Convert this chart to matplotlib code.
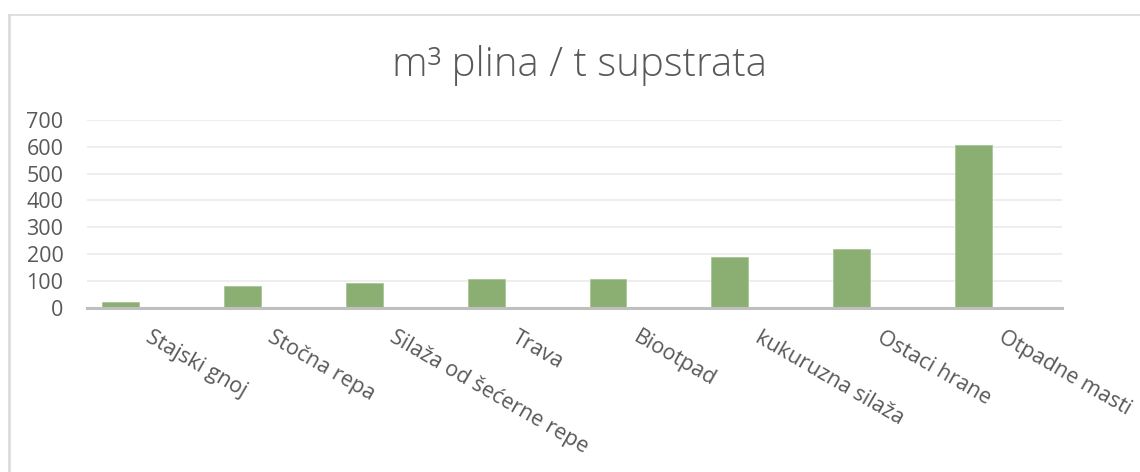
import matplotlib.pyplot as plt
from matplotlib.lines import Line2D
import numpy as np

categories = ["Stajski gnoj", "Stočna repa", "Silaža od šećerne repe", "Trava",
              "Biootpad", "kukuruzna silaža", "Ostaci hrane", "Otpadne masti"]
values = [20, 80, 90, 105, 105, 190, 220, 605]
yticks = [0, 100, 200, 300, 400, 500, 600, 700]

plt.rcParams['font.family'] = ['Open Sans', 'DejaVu Sans']

fig = plt.figure(figsize=(11.4, 4.72), dpi=100)
ax = fig.add_axes([87 / 1140, 164.5 / 472, 975 / 1140, 187.5 / 472])

x = np.arange(len(categories))
# bars sit in the left part of each category slot (Excel style)
ax.bar(x - 0.225, values, width=0.303, color='#8BAF72', edgecolor='#A9C796', linewidth=0.6, zorder=3)

ax.set_xlim(-0.5, len(categories) - 0.5)
ax.set_ylim(0, 700)
ax.set_yticks(yticks)
ax.set_yticklabels([str(v) for v in yticks], fontsize=15.5, color='#595959')
ax.grid(axis='y', color='#EBEBEB', linewidth=1.2, zorder=0)
ax.set_xticks(x + 0.04)
ax.set_xticklabels(categories, rotation=-30, ha='left', va='top', rotation_mode='anchor',
                   fontsize=15.5, color='#595959')
ax.tick_params(axis='both', length=0)
ax.tick_params(axis='x', pad=14)
ax.tick_params(axis='y', pad=17)

for s in ['top', 'right', 'left']:
    ax.spines[s].set_visible(False)
ax.spines['bottom'].set_color('#BFBFBF')
ax.spines['bottom'].set_linewidth(2.2)
ax.spines['bottom'].set_zorder(4)

fig.text(0.508, 1 - 65 / 472, "m³ plina / t supstrata", ha='center', va='center',
         fontsize=29, color='#595959', fontweight='light')

# chart border (only top and left visible in the crop)
fig.add_artist(Line2D([9 / 1140, 1.0], [1 - 15 / 472, 1 - 15 / 472], color='#D9D9D9', linewidth=1.2))
fig.add_artist(Line2D([9 / 1140, 9 / 1140], [0, 1 - 15 / 472], color='#D9D9D9', linewidth=1.8))

fig.savefig("out.png", dpi=100)
